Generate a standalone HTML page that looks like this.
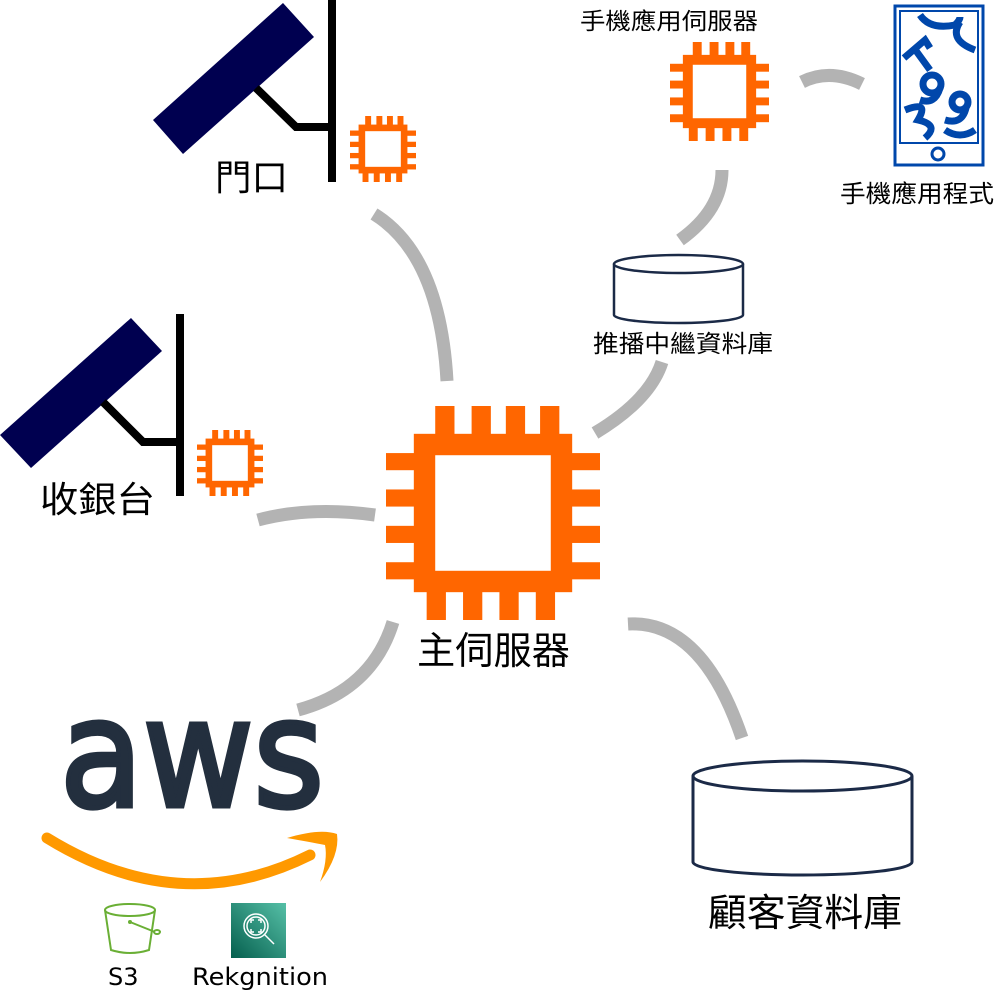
<!DOCTYPE html>
<html><head><meta charset="utf-8"><style>
html,body{margin:0;padding:0;background:#fff}
svg{display:block}
text{font-family:"DejaVu Sans","Noto Sans CJK TC",sans-serif}
</style></head><body>
<svg width="994" height="991" viewBox="0 0 994 991" xmlns="http://www.w3.org/2000/svg">
<defs>
<g id="chip">
 <rect x="18" y="18" width="64" height="64" fill="none" stroke="#ff6600" stroke-width="10"/>
 <g fill="#ff6600">
  <rect x="23" y="0" width="9" height="14"/><rect x="40" y="0" width="9" height="14"/><rect x="56" y="0" width="9" height="14"/><rect x="72" y="0" width="9" height="14"/>
  <rect x="19" y="86" width="9" height="14"/><rect x="36" y="86" width="9" height="14"/><rect x="53" y="86" width="9" height="14"/><rect x="70" y="86" width="9" height="14"/>
  <rect x="0" y="22" width="14" height="8"/><rect x="0" y="39" width="14" height="8"/><rect x="0" y="56" width="14" height="8"/><rect x="0" y="73" width="14" height="8"/>
  <rect x="86" y="22" width="14" height="8"/><rect x="86" y="39" width="14" height="8"/><rect x="86" y="56" width="14" height="8"/><rect x="86" y="73" width="14" height="8"/>
 </g>
</g>
</defs>

<g fill="none" stroke="#b3b3b3" stroke-width="13" stroke-linecap="butt">
 <path d="M374,214 Q440,255 447,381"/>
 <path d="M258,520 Q310,506 375,515"/>
 <path d="M595,433 Q650,400 662,362"/>
 <path d="M680,240 Q722,210 722,170"/>
 <path d="M802,82 Q830,68 862,84"/>
 <path d="M298,710 Q372,690 393,622"/>
 <path d="M628,624 Q702,620 742,738"/>
</g>

<polygon points="153,120 283,3 314,37 183,154" fill="#000050"/>
<polyline points="256,88 296,127 332,127" fill="none" stroke="#000" stroke-width="8"/>
<rect x="328" y="0" width="8" height="182" fill="#000"/>
<use href="#chip" transform="translate(350,116) scale(0.66)"/>
<text x="215" y="190" font-size="36" textLength="73" lengthAdjust="spacingAndGlyphs">門口</text>

<polygon points="0,435 131,318 162,351 31,468" fill="#000050"/>
<polyline points="103,402 143,442 180,442" fill="none" stroke="#000" stroke-width="8"/>
<rect x="176" y="314" width="8" height="182" fill="#000"/>
<use href="#chip" transform="translate(197,430) scale(0.66)"/>
<text x="40" y="512" font-size="36" textLength="115" lengthAdjust="spacingAndGlyphs">收銀台</text>

<use href="#chip" transform="translate(386,406) scale(2.14)"/>
<text x="417" y="664" font-size="38" textLength="153" lengthAdjust="spacingAndGlyphs">主伺服器</text>

<use href="#chip" transform="translate(670,42) scale(0.99)"/>
<text x="580" y="29" font-size="23" textLength="178" lengthAdjust="spacingAndGlyphs">手機應用伺服器</text>

<rect x="895" y="6" width="88" height="159" fill="none" stroke="#0047ab" stroke-width="3"/>
<rect x="900" y="11" width="78" height="132" fill="none" stroke="#0047ab" stroke-width="2"/>
<circle cx="938" cy="154" r="6" fill="none" stroke="#0047ab" stroke-width="3"/>
<g fill="none" stroke="#0047ab" stroke-width="7">
 <path d="M920,15 Q930,30 955,25 Q960,20 960,17"/>
 <path d="M960,22 Q948,40 975,50"/>
 <path d="M904,58 L925,40 L930,48 M914,48 L930,70"/>
 <circle cx="932" cy="84" r="9"/><path d="M940,88 Q935,105 920,100"/>
 <circle cx="960" cy="102" r="8"/><path d="M966,108 Q962,125 945,120"/>
 <path d="M905,110 Q930,100 918,120 Q940,125 925,138"/>
 <path d="M945,130 Q960,140 975,130"/>
</g>
<text x="840" y="202" font-size="24" textLength="154" lengthAdjust="spacingAndGlyphs">手機應用程式</text>

<path d="M614,264 L614,315 A64.5,8 0 0 0 743,315 L743,264" fill="#fff" stroke="#1b2a47" stroke-width="2.5"/>
<ellipse cx="678.5" cy="264" rx="64.5" ry="9" fill="#fff" stroke="#1b2a47" stroke-width="2.5"/>
<text x="593" y="352" font-size="24" textLength="180" lengthAdjust="spacingAndGlyphs">推播中繼資料庫</text>

<path d="M693,776 L693,862 A109.5,13 0 0 0 912,862 L912,776" fill="#fff" stroke="#1b2a47" stroke-width="3"/>
<ellipse cx="802.5" cy="776" rx="109.5" ry="15" fill="#fff" stroke="#1b2a47" stroke-width="3"/>
<text x="708" y="926" font-size="38" textLength="194" lengthAdjust="spacingAndGlyphs">顧客資料庫</text>

<text x="60" y="806" font-size="150" fill="#232f3e" stroke="#232f3e" stroke-width="5" textLength="264" lengthAdjust="spacingAndGlyphs">aws</text>
<path d="M47,838 Q180,920 310,855" fill="none" stroke="#ff9900" stroke-width="11" stroke-linecap="round"/>
<path d="M287,838 Q320,828 337,834 Q340,855 320,882 Q328,860 325,845 Q310,842 287,838 Z" fill="#ff9900"/>

<g fill="none" stroke="#6aaf35" stroke-width="2">
 <ellipse cx="130" cy="910" rx="25" ry="6"/>
 <path d="M105,910 L111,950 Q130,956 149,950 L155,910"/>
 <path d="M130,922 L155,932"/>
 <ellipse cx="157" cy="932" rx="3" ry="2"/>
</g>
<circle cx="130" cy="922" r="2" fill="#6aaf35"/>
<text x="108" y="985" font-size="24">S3</text>

<defs><linearGradient id="rg" x1="0" y1="1" x2="1" y2="0"><stop offset="0" stop-color="#055f4e"/><stop offset="1" stop-color="#56c0a7"/></linearGradient></defs>
<rect x="231" y="903" width="55" height="55" fill="url(#rg)"/>
<g fill="none" stroke="#fff" stroke-width="1.5">
 <circle cx="256" cy="926" r="12"/><circle cx="256" cy="926" r="9"/>
 <path d="M264,934 L274,944"/>
 <path d="M251,923 v-3 h3 M258,920 h3 v3 M261,929 v3 h-3 M254,932 h-3 v-3"/>
</g>
<text x="192" y="985" font-size="24" textLength="136" lengthAdjust="spacingAndGlyphs">Rekgnition</text>
</svg>
</body></html>
